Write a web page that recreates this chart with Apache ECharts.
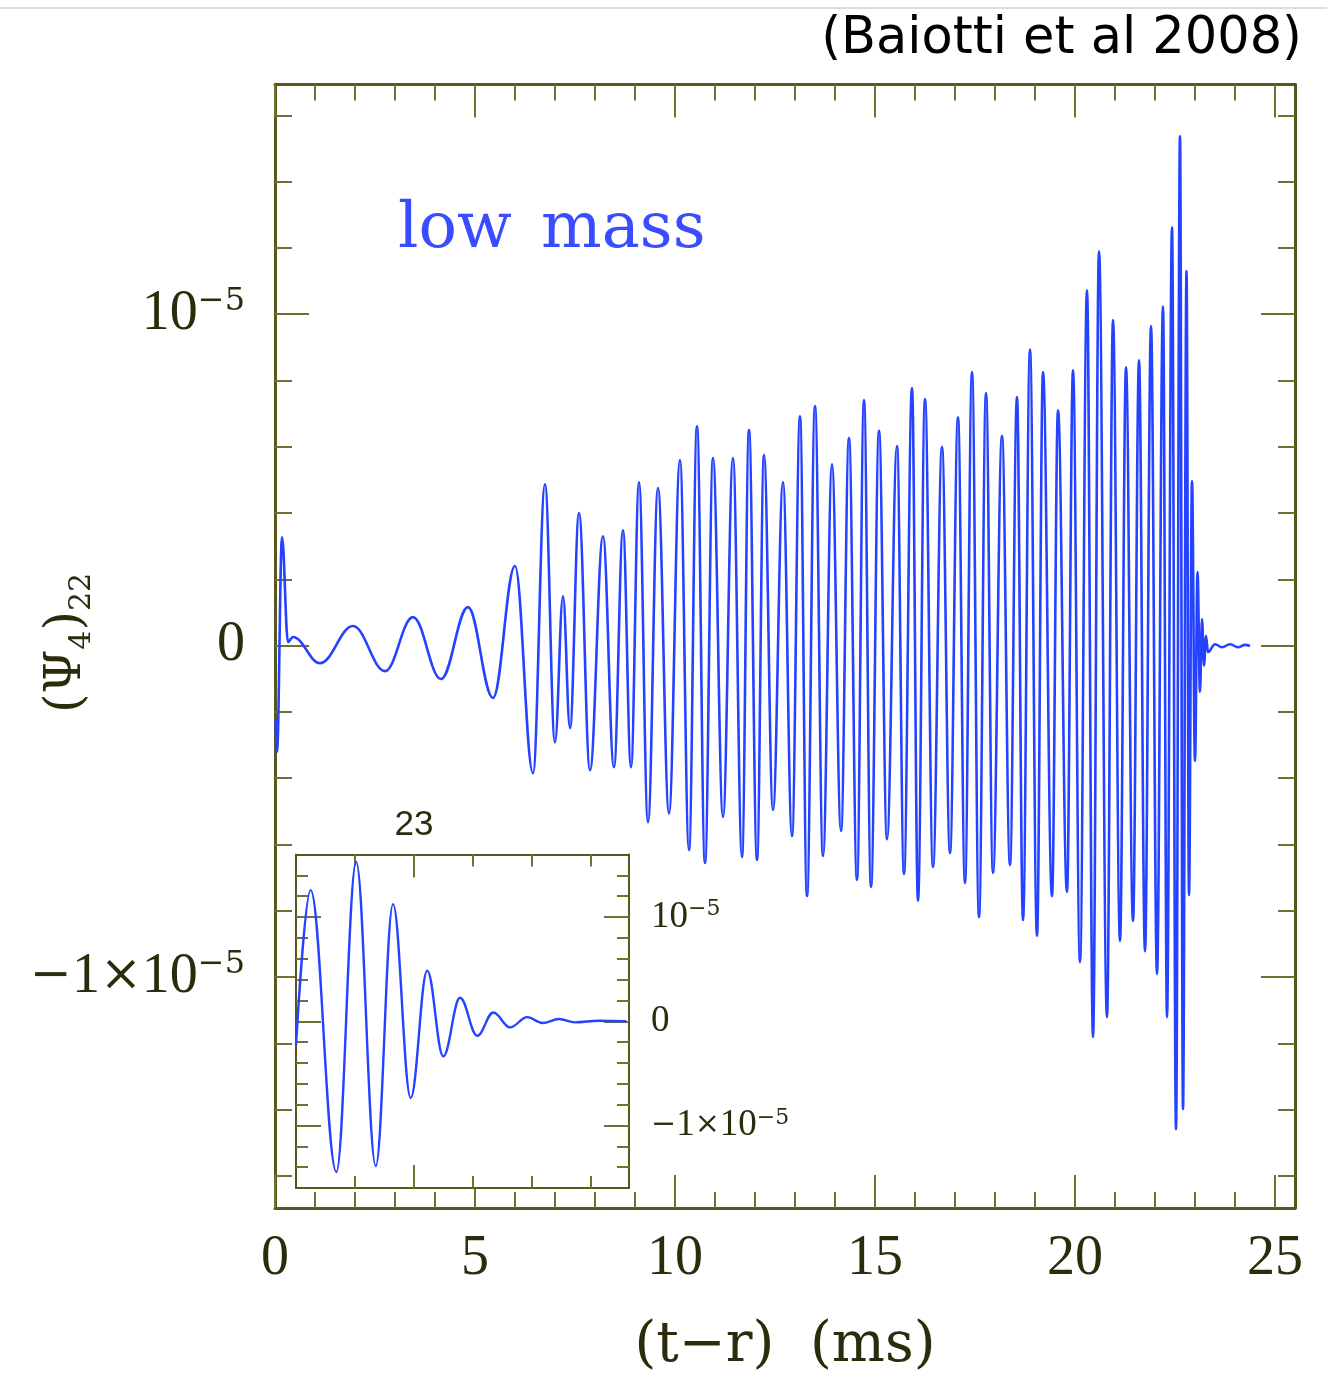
<!DOCTYPE html>
<html><head><meta charset="utf-8">
<script src="https://cdn.jsdelivr.net/npm/echarts@6/dist/echarts.min.js"></script>
<style>html,body{margin:0;padding:0;background:#fff}#c{width:1327px;height:1373px}</style>
</head><body><div id="c"></div>
<script>
// ---- data (time in ms, amplitude in units of 1e-5) ----
const mainTime = [0.013,0.05,0.175,0.325,0.45,1.125,1.95,2.75,3.45,4.15,4.825,5.45,6.0,6.45,6.75,7.0,7.2,7.375,7.6,7.875,
  8.2,8.475,8.7,8.9,9.1,9.325,9.575,9.85,10.125,10.35,10.55,10.75,10.95,11.2,11.45,11.675,11.85,12.05,12.225,12.45,
  12.7,12.925,13.125,13.3,13.5,13.7,13.925,14.15,14.35,14.55,14.725,14.9,15.1,15.3,15.55,15.725,15.925,16.075,16.25,16.45,
  16.675,16.875,17.075,17.25,17.425,17.6,17.775,17.95,18.175,18.375,18.55,18.7,18.875,19.05,19.2,19.425,19.575,19.8,19.95,20.125,
  20.3,20.45,20.6,20.8,20.95,21.125,21.275,21.45,21.6,21.75,21.9,22.05,22.2,22.3,22.425,22.525,22.625,22.7,22.788,22.85,
  22.925,23.0,23.063,23.125,23.175,23.225,23.275,23.325,23.5,23.675,23.875,24.075,24.25,24.375];
const mainValue = [-0.225,-0.321,0.327,0.011,0.026,-0.053,0.059,-0.077,0.086,-0.101,0.116,-0.158,0.240,-0.385,0.487,-0.292,0.149,-0.249,0.400,-0.376,
  0.330,-0.367,0.348,-0.367,0.493,-0.533,0.475,-0.506,0.560,-0.617,0.662,-0.656,0.566,-0.517,0.566,-0.638,0.651,-0.647,0.575,-0.496,
  0.493,-0.575,0.692,-0.756,0.723,-0.635,0.547,-0.559,0.626,-0.707,0.741,-0.728,0.648,-0.584,0.602,-0.689,0.777,-0.770,0.744,-0.668,
  0.599,-0.626,0.689,-0.716,0.825,-0.819,0.762,-0.686,0.633,-0.662,0.750,-0.828,0.893,-0.876,0.825,-0.756,0.710,-0.743,0.831,-0.955,
  1.072,-1.181,1.190,-1.121,0.982,-0.891,0.840,-0.831,0.861,-0.922,0.964,-0.991,1.023,-1.121,1.262,-1.459,1.537,-1.398,1.130,-0.753,
  0.496,-0.348,0.222,-0.140,0.080,-0.060,0.029,-0.020,0.004,-0.005,0.004,-0.005,0.002,-0.001];

const insetTime = [22.5,22.562,22.671,22.755,22.838,22.911,22.986,23.056,23.124,23.195,23.268,23.336,23.407,23.48,23.544,23.614,23.682,23.784,23.9];
const insetValue = [-0.23,1.258,-1.447,1.529,-1.389,1.124,-0.735,0.486,-0.337,0.225,-0.139,0.084,-0.059,0.040,-0.017,0.021,-0.011,0.005,0];

// ---- ticks / tick labels ----
const xMajorTicks = [0,5,10,15,20,25];
const xMinorTicks = [1,2,3,4,6,7,8,9,11,12,13,14,16,17,18,19,21,22,23,24];
const yMajorTicks = [-1,0,1];
const yMinorTicks = [-1.6,-1.4,-1.2,-0.8,-0.6,-0.4,-0.2,0.2,0.4,0.6,0.8,1.2,1.4,1.6];
const insetXMajorTicks = [23];
const insetXMinorTicks = [22.75,23.25,23.5,23.75];
const insetYMajorTicks = [-1,0,1];
const insetYMinorTicks = [-1.4,-1.2,-0.8,-0.6,-0.4,-0.2,0.2,0.4,0.6,0.8,1.2,1.4];

const AX = '#58581c', TK = '#707030', LBL = '#2c2c0c', BLUE = '#2442ff';
const SERIF = '"Liberation Serif", serif';
const DSERIF = '"DejaVu Serif", serif';

function ax(o) {
  return {
    type: 'value', gridIndex: o.grid, position: o.pos, min: o.min, max: o.max, z: o.z || 0,
    axisLine: { show: !!o.line, onZero: false, lineStyle: { color: AX, width: o.lw || 3 } },
    axisTick: { show: true, inside: true, length: o.len, customValues: o.ticks, lineStyle: { color: TK, width: 2 } },
    axisLabel: o.label ? Object.assign({ show: true }, o.label) : { show: false },
    splitLine: { show: false }
  };
}
function powLabel(v) {
  if (Math.abs(v) < 1e-9) return '0';
  if (Math.abs(v - 1) < 1e-9) return '{b|10}{s|\u22125}';
  return '{m|\u2212}{b|1}{m|\u00d7}{b|10}{s|\u22125}';
}
function richSet(big, mid, sup) {
  return {
    b: { fontFamily: SERIF, fontSize: big, lineHeight: big, color: LBL },
    m: { fontFamily: DSERIF, fontSize: mid, lineHeight: big, color: LBL },
    s: { fontFamily: DSERIF, fontSize: sup, lineHeight: sup, verticalAlign: 'top', color: LBL }
  };
}
const mainXLabel = { customValues: xMajorTicks, margin: 23, color: LBL, fontFamily: SERIF, fontSize: 56 };
const mainYLabel = { customValues: yMajorTicks, margin: 30, color: LBL, fontFamily: SERIF, fontSize: 56, formatter: powLabel, rich: richSet(56, 50, 32) };
const insetYLabel = { customValues: insetYMajorTicks, margin: 22, color: LBL, fontFamily: SERIF, fontSize: 37, formatter: powLabel, align: 'left', rich: richSet(37, 30, 22) };
const insetXLabel = { customValues: insetXMajorTicks, margin: 12, color: LBL, fontFamily: '"Liberation Sans", sans-serif', fontSize: 35 };

const XM = [0, 25.5], YM = [-1.697, 1.693], XI = [22.5, 23.911], YI = [-1.6, 1.6];

const chart = echarts.init(document.getElementById('c'), null, { renderer: 'canvas' });
chart.setOption({
  animation: false,
  backgroundColor: '#fff',
  grid: [
    { left: 275, top: 84.5, width: 1020, height: 1123.5 },
    { left: 296, top: 854.5, width: 333, height: 333.5, show: true, backgroundColor: '#fff', borderWidth: 0, z: 5 }
  ],
  xAxis: [
    ax({ grid: 0, pos: 'bottom', min: XM[0], max: XM[1], line: true, len: 16, ticks: xMinorTicks, label: mainXLabel }),
    ax({ grid: 0, pos: 'bottom', min: XM[0], max: XM[1], len: 33, ticks: xMajorTicks }),
    ax({ grid: 0, pos: 'top', min: XM[0], max: XM[1], line: true, len: 16, ticks: xMinorTicks }),
    ax({ grid: 0, pos: 'top', min: XM[0], max: XM[1], len: 33, ticks: xMajorTicks }),
    ax({ grid: 1, z: 10, pos: 'bottom', min: XI[0], max: XI[1], line: true, lw: 2, len: 12, ticks: insetXMinorTicks }),
    ax({ grid: 1, z: 10, pos: 'bottom', min: XI[0], max: XI[1], len: 23, ticks: insetXMajorTicks }),
    ax({ grid: 1, z: 10, pos: 'top', min: XI[0], max: XI[1], line: true, lw: 2, len: 12, ticks: insetXMinorTicks }),
    ax({ grid: 1, z: 10, pos: 'top', min: XI[0], max: XI[1], len: 23, ticks: insetXMajorTicks, label: insetXLabel })
  ],
  yAxis: [
    ax({ grid: 0, pos: 'left', min: YM[0], max: YM[1], line: true, len: 17, ticks: yMinorTicks, label: mainYLabel }),
    ax({ grid: 0, pos: 'left', min: YM[0], max: YM[1], len: 34, ticks: yMajorTicks }),
    ax({ grid: 0, pos: 'right', min: YM[0], max: YM[1], line: true, len: 17, ticks: yMinorTicks }),
    ax({ grid: 0, pos: 'right', min: YM[0], max: YM[1], len: 34, ticks: yMajorTicks }),
    ax({ grid: 1, z: 10, pos: 'left', min: YI[0], max: YI[1], line: true, lw: 2, len: 12, ticks: insetYMinorTicks }),
    ax({ grid: 1, z: 10, pos: 'left', min: YI[0], max: YI[1], len: 25, ticks: insetYMajorTicks }),
    ax({ grid: 1, z: 10, pos: 'right', min: YI[0], max: YI[1], line: true, lw: 2, len: 12, ticks: insetYMinorTicks, label: insetYLabel }),
    ax({ grid: 1, z: 10, pos: 'right', min: YI[0], max: YI[1], len: 25, ticks: insetYMajorTicks })
  ],
  series: [
    { type: 'line', xAxisIndex: 0, yAxisIndex: 0, data: mainTime.map((t, i) => [t, mainValue[i]]),
      showSymbol: false, smooth: 0.38, smoothMonotone: 'x', clip: true,
      lineStyle: { color: BLUE, width: 2.6 }, z: 3 },
    { type: 'line', xAxisIndex: 4, yAxisIndex: 4, data: insetTime.map((t, i) => [t, insetValue[i]]),
      showSymbol: false, smooth: 0.38, smoothMonotone: 'x', clip: true,
      lineStyle: { color: BLUE, width: 2.4 }, z: 12 }
  ],
  graphic: [
    { type: 'rect', shape: { x: 0, y: 7, width: 1327, height: 2 }, style: { fill: '#dcdcdc' } },
    { type: 'text', x: 1302, y: 40, style: { text: '(Baiotti et al 2008)', fill: '#000', fontFamily: '"DejaVu Sans", sans-serif', fontSize: 51,
        align: 'right', verticalAlign: 'middle' } },
    { type: 'text', x: 398, y: 230, style: { text: 'low', fill: '#3a4cff', fontFamily: DSERIF, fontSize: 64, align: 'left', verticalAlign: 'middle' } },
    { type: 'text', x: 541, y: 230, style: { text: 'mass', fill: '#3a4cff', fontFamily: DSERIF, fontSize: 64, align: 'left', verticalAlign: 'middle' } },
    { type: 'text', x: 785, y: 1346, style: { text: '(t\u2212r)  (ms)', fill: LBL, fontFamily: DSERIF, fontSize: 56, align: 'center', verticalAlign: 'middle' } },
    { type: 'text', x: 72, y: 643, rotation: Math.PI / 2,
      style: { text: '{a|(\u03a8}{s|4}{a|)}{s|22}', fill: LBL, align: 'center', verticalAlign: 'middle',
        rich: { a: { fontFamily: DSERIF, fontSize: 50, lineHeight: 50, padding: [0, 0, 10, 0], fill: LBL, color: LBL },
                s: { fontFamily: DSERIF, fontSize: 30, lineHeight: 30, verticalAlign: 'bottom', fill: LBL, color: LBL } } } }
  ]
});
</script>
</body></html>
